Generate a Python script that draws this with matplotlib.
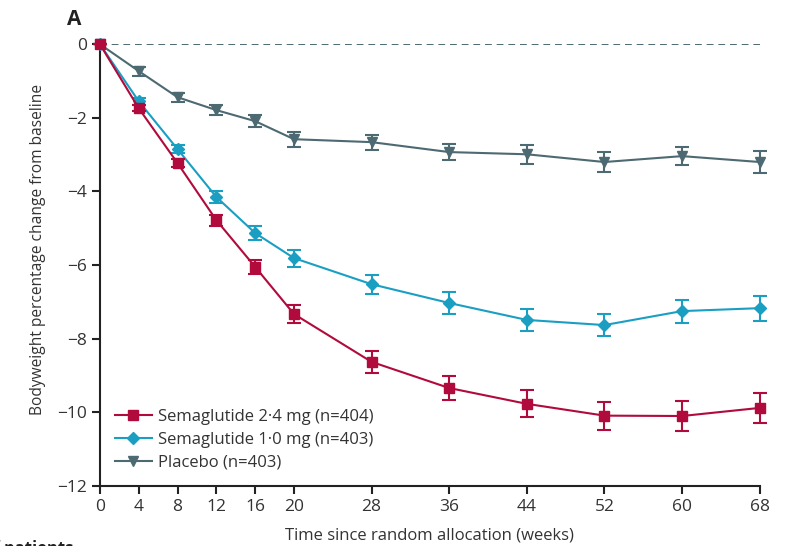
import numpy as np
import matplotlib.pyplot as plt
from matplotlib.lines import Line2D

weeks = [0, 4, 8, 12, 16, 20, 28, 36, 44, 52, 60, 68]

sema24 = [0, -1.74, -3.23, -4.78, -6.05, -7.33, -8.63, -9.34, -9.77, -10.09, -10.10, -9.88]
sema24_err = [0, 0.08, 0.10, 0.15, 0.18, 0.25, 0.29, 0.33, 0.37, 0.38, 0.40, 0.41]

sema10 = [0, -1.55, -2.85, -4.15, -5.13, -5.81, -6.52, -7.03, -7.49, -7.63, -7.25, -7.17]
sema10_err = [0, 0.10, 0.10, 0.17, 0.18, 0.23, 0.26, 0.29, 0.31, 0.30, 0.31, 0.34]

placebo = [0, -0.73, -1.44, -1.79, -2.09, -2.58, -2.66, -2.93, -2.99, -3.20, -3.04, -3.20]
placebo_err = [0, 0.12, 0.12, 0.14, 0.17, 0.20, 0.20, 0.22, 0.26, 0.26, 0.25, 0.30]

labels = ["Semaglutide 2\u00b74 mg (n=404)", "Semaglutide 1\u00b70 mg (n=403)", "Placebo (n=403)"]
colors = ["#B10A3C", "#1A9FC3", "#4D6A73"]
markers = ["s", "D", "v"]
msizes = [7, 6.5, 7.5]
text_col = "#333333"

plt.rcParams['font.family'] = ['Open Sans', 'DejaVu Sans']

fig = plt.figure(figsize=(7.93, 5.46), dpi=100)
ax = fig.add_axes([0.126, 0.110, 0.832, 0.809])

ax.axhline(0, color="#4D6A73", lw=1.4, ls=(0, (3.5, 2.5)), zorder=1)

series = [(sema24, sema24_err), (sema10, sema10_err), (placebo, placebo_err)]
# draw placebo first so active arms sit on top
for i in [2, 1, 0]:
    y, e = series[i]
    ax.errorbar(weeks, y, yerr=e, color=colors[i], marker=markers[i], ms=msizes[i],
                lw=1.5, elinewidth=1.5, capsize=5, capthick=1.5,
                clip_on=False, zorder=3 + (2 - i))

ax.set_xlim(0, 68)
ax.set_ylim(-12, 0)
ax.set_xticks(weeks)
ax.set_yticks(range(0, -13, -2))
ax.set_yticklabels([str(v).replace('-', '\u2212') for v in range(0, -13, -2)])

for s in ["top", "right"]:
    ax.spines[s].set_visible(False)
for s in ["left", "bottom"]:
    ax.spines[s].set_color("#222222")
    ax.spines[s].set_linewidth(1.5)
ax.tick_params(direction="out", length=6, width=1.5, color="#222222",
               labelsize=12.5, labelcolor=text_col)

ax.set_xlabel("Time since random allocation (weeks)", fontsize=12, color=text_col, labelpad=9)
ax.set_ylabel("Bodyweight percentage change from baseline", fontsize=11.2, color=text_col)
ax.yaxis.set_label_coords(-0.082, 0.535)

handles = [Line2D([], [], color=colors[i], marker=markers[i], ms=msizes[i], lw=1.5)
           for i in range(3)]
leg = ax.legend(handles, labels, loc="lower left", bbox_to_anchor=(0.0, 0.0), frameon=False,
                fontsize=12, handlelength=2.2, handletextpad=0.4, labelspacing=0.42,
                borderaxespad=0.5)
for t in leg.get_texts():
    t.set_color(text_col)

fig.text(0.085, 0.965, "A", fontsize=15, fontweight="bold", color="#222222", va="center")
fig.text(0.092, -0.005, "of patients", fontsize=12, fontweight="bold", color="#222222",
         ha="right", va="center")

fig.savefig("out.png", dpi=100)
